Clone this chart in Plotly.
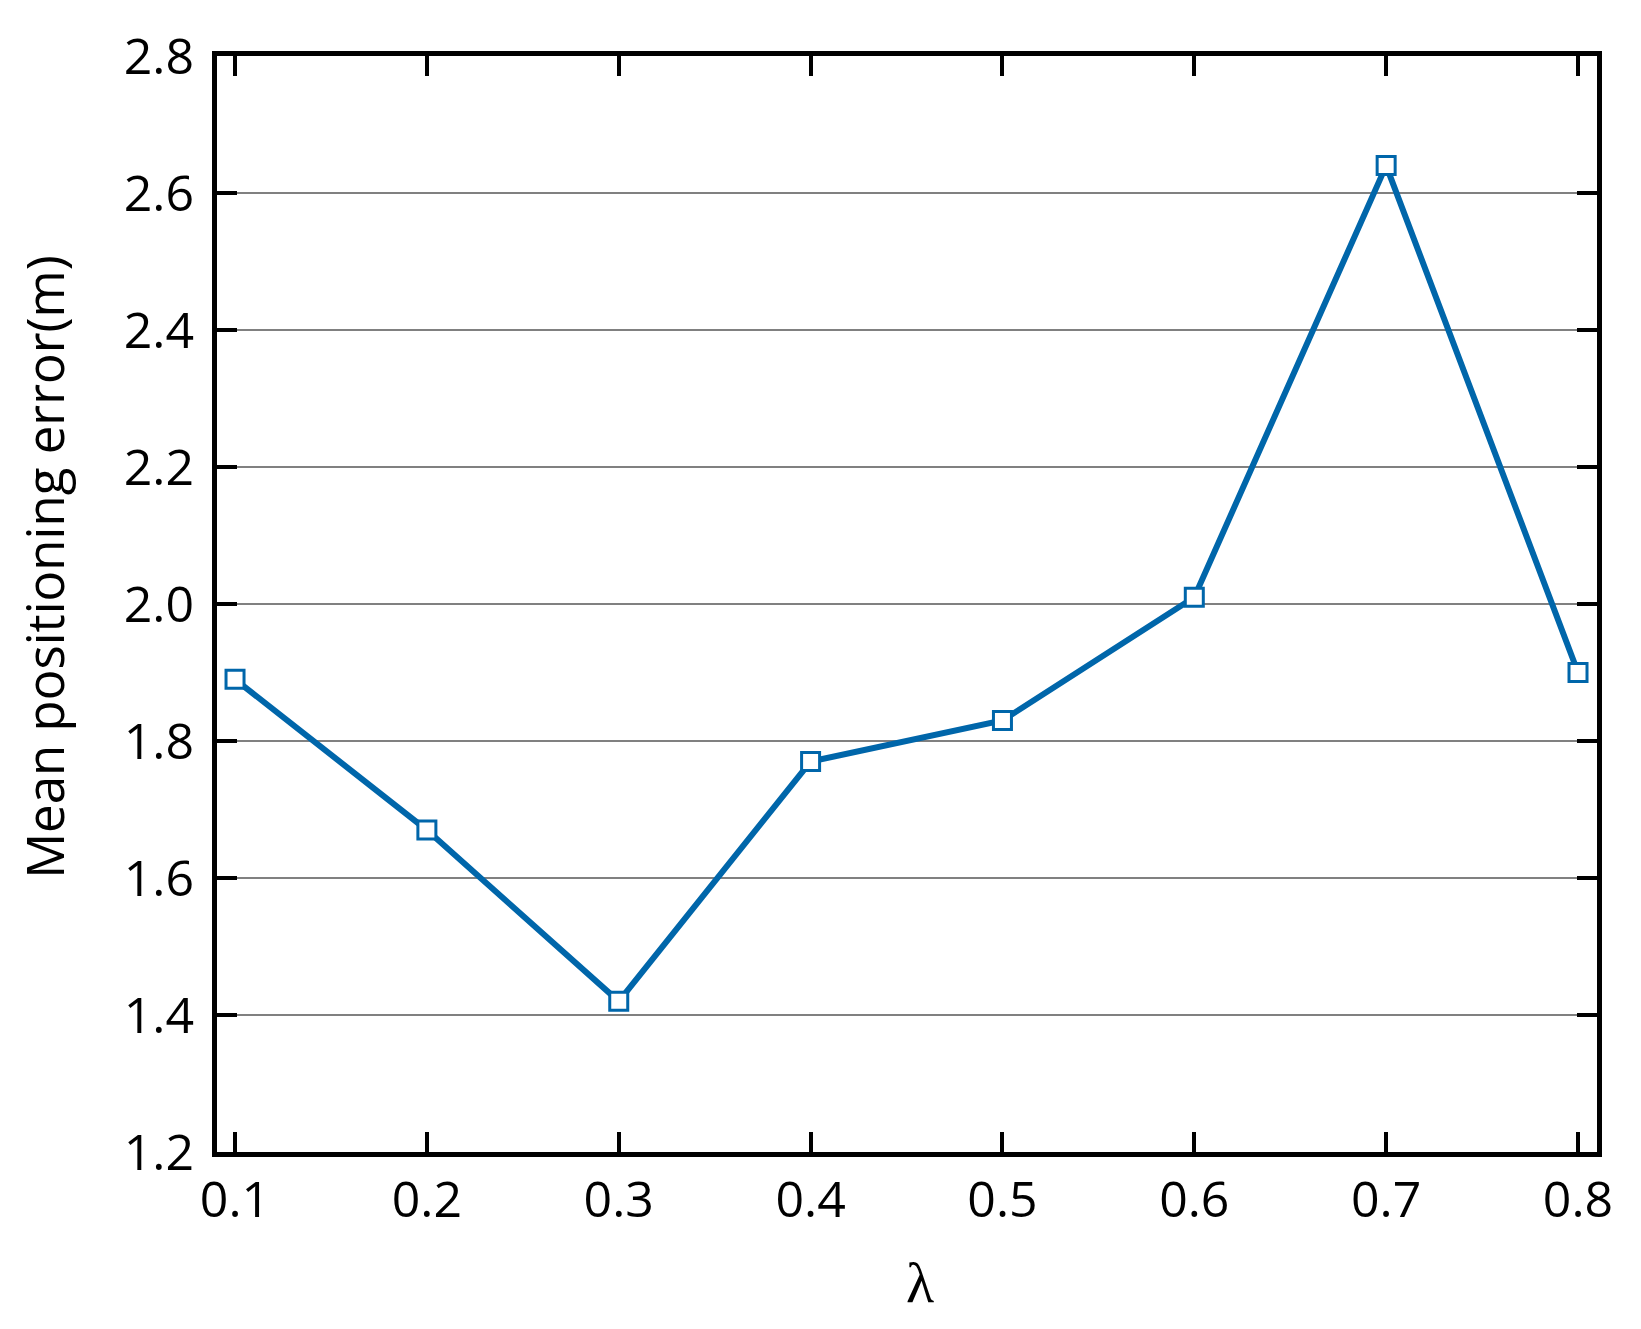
import plotly.graph_objects as go

lam = [0.1, 0.2, 0.3, 0.4, 0.5, 0.6, 0.7, 0.8]
err = [1.89, 1.67, 1.42, 1.77, 1.83, 2.01, 2.64, 1.90]
x_ticks = [0.1, 0.2, 0.3, 0.4, 0.5, 0.6, 0.7, 0.8]
y_ticks = [1.2, 1.4, 1.6, 1.8, 2.0, 2.2, 2.4, 2.6, 2.8]

BLUE = "rgb(0,102,170)"
FONT = "Open Sans"

# page body has an 8px default margin; figure sized/margined to compensate
fig = go.Figure()
fig.add_trace(go.Scatter(
    x=lam, y=err, mode="lines+markers",
    line=dict(color=BLUE, width=6),
    marker=dict(symbol="square", size=18, color="white",
                line=dict(color=BLUE, width=3)),
    showlegend=False,
))

fig.update_layout(
    width=1625, height=1313,
    margin=dict(l=209, r=36, t=37, b=169),
    paper_bgcolor="white", plot_bgcolor="white",
    font=dict(family=FONT, size=50, color="black"),
)
fig.update_xaxes(
    range=[0.0906, 0.8099],
    tickvals=x_ticks, ticktext=[f"{v:.1f}" for v in x_ticks],
    showline=True, linecolor="black", linewidth=5, mirror="ticks",
    ticks="inside", ticklen=20, tickwidth=4, tickcolor="black",
    showgrid=False, zeroline=False,
    tickfont=dict(family=FONT, size=50),
)
fig.update_yaxes(
    range=[1.2, 2.8],
    tickvals=y_ticks, ticktext=[f"{v:.1f}" for v in y_ticks],
    showline=True, linecolor="black", linewidth=5, mirror="ticks",
    ticks="inside", ticklen=20, tickwidth=4, tickcolor="black",
    showgrid=True, gridcolor="#808080", gridwidth=2, zeroline=False,
    tickfont=dict(family=FONT, size=50), ticklabelstandoff=8,
)

fig.add_annotation(
    text="Mean positioning error(m)", xref="paper", yref="paper",
    x=(44 - 217) / 1380, y=(1152 - 561) / 1107,
    xanchor="center", yanchor="middle", textangle=-90, showarrow=False,
    font=dict(family=FONT, size=51, color="black"),
)
fig.add_annotation(
    text="λ", xref="paper", yref="paper",
    x=(920 - 217) / 1380, y=(1152 - 1284) / 1107,
    xanchor="center", yanchor="middle", showarrow=False, borderpad=0,
    font=dict(family="Liberation Serif", size=58, color="black"),
)

fig.write_html("out.html")
